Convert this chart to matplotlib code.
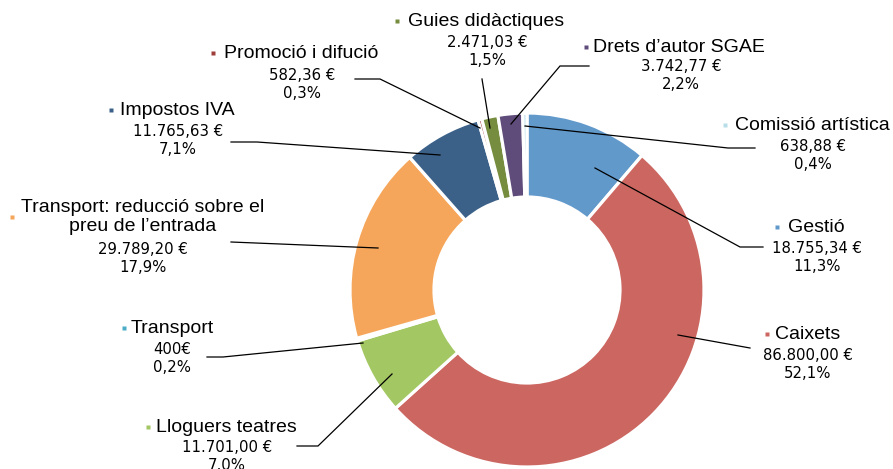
import matplotlib
matplotlib.use('Agg')
import matplotlib.pyplot as plt

# data
names = ['Gestió', 'Caixets', 'Lloguers teatres', 'Transport',
         'Transport: reducció sobre el\npreu de l\u2019entrada', 'Impostos IVA',
         'Promoció i difució', 'Guies didàctiques', 'Drets d\u2019autor SGAE',
         'Comissió artística']
values = [18755.34, 86800.00, 11701.00, 400.00, 29789.20, 11765.63,
          582.36, 2471.03, 3742.77, 638.88]
value_labels = ['18.755,34 €', '86.800,00 €', '11.701,00 €', '400€', '29.789,20 €',
                '11.765,63 €', '582,36 €', '2.471,03 €', '3.742,77 €', '638,88 €']
pct_labels = ['11,3%', '52,1%', '7,0%', '0,2%', '17,9%', '7,1%', '0,3%', '1,5%', '2,2%', '0,4%']
colors = ['#6299CB', '#CC6660', '#A3C763', '#4BACC6', '#F5A65A', '#3C6189',
          '#9E3F3B', '#768C3E', '#5F4C7B', '#B8DEE8']

W, H = 893, 469

# label layout in pixel coords (x, y from top): name centre, marker x, value centre
layout = {
    'Gestió': dict(name=(816, 227), mark=777, val=(817, 248)),
    'Caixets': dict(name=(808, 334), mark=767, val=(808, 355)),
    'Lloguers teatres': dict(name=(226, 427), mark=148, val=(227, 447)),
    'Transport': dict(name=(172, 328), mark=124, val=(172, 349)),
    'Transport: reducció sobre el\npreu de l\u2019entrada': dict(name=(143, 217), mark=12, val=(143, 249)),
    'Impostos IVA': dict(name=(177, 110), mark=111, val=(178, 131)),
    'Promoció i difució': dict(name=(301, 53), mark=213, val=(302, 75)),
    'Guies didàctiques': dict(name=(486, 21), mark=397, val=(487, 42)),
    'Drets d\u2019autor SGAE': dict(name=(679, 47), mark=586, val=(681, 66)),
    'Comissió artística': dict(name=(812, 125), mark=725, val=(813, 146)),
}
# leader lines (pixel coords from top)
leaders = {
    'Gestió': [(763, 247), (740, 247), (595, 168)],
    'Caixets': [(750, 348), (678, 335)],
    'Lloguers teatres': [(297, 446), (318, 446), (392, 374)],
    'Transport': [(207, 357), (223, 357), (363, 343)],
    'Transport: reducció sobre el\npreu de l\u2019entrada': [(231, 242), (378, 248)],
    'Impostos IVA': [(231, 142), (257, 142), (440, 155)],
    'Promoció i difució': [(355, 79), (380, 79), (480, 128)],
    'Guies didàctiques': [(482, 79), (490, 128)],
    'Drets d\u2019autor SGAE': [(589, 66), (560, 66), (511, 124)],
    'Comissió artística': [(755, 148), (728, 148), (525, 126)],
}

fig = plt.figure(figsize=(W / 100, H / 100), dpi=100)
ax = fig.add_axes([0, 0, 1, 1])

cx, cy, r_out, r_in = 527, 290, 177, 93
ax.pie(values, colors=colors, startangle=90, counterclock=False,
       center=(cx, H - cy), radius=r_out,
       wedgeprops=dict(width=r_out - r_in, edgecolor='white', linewidth=2.3))

name_font = ['Liberation Sans', 'DejaVu Sans']
for i, n in enumerate(names):
    lay = layout[n]
    nx, ny = lay['name']
    ax.text(nx, H - ny, n, ha='center', va='center', fontsize=14,
            family=name_font, color='black', linespacing=1.2)
    ax.plot(lay['mark'], H - ny, 's', ms=3.2, color=colors[i], mec='none')
    vx, vy = lay['val']
    ax.text(vx, H - vy, value_labels[i], ha='center', va='center',
            fontsize=10.7, family='DejaVu Sans', color='black')
    ax.text(vx, H - vy - 18, pct_labels[i], ha='center', va='center',
            fontsize=10.7, family='DejaVu Sans', color='black')
    pts = leaders[n]
    ax.plot([p[0] for p in pts], [H - p[1] for p in pts], color='black', lw=0.9,
            solid_joinstyle='miter')

ax.set_xlim(0, W)
ax.set_ylim(0, H)
ax.axis('off')

fig.savefig('out.png', dpi=100)
